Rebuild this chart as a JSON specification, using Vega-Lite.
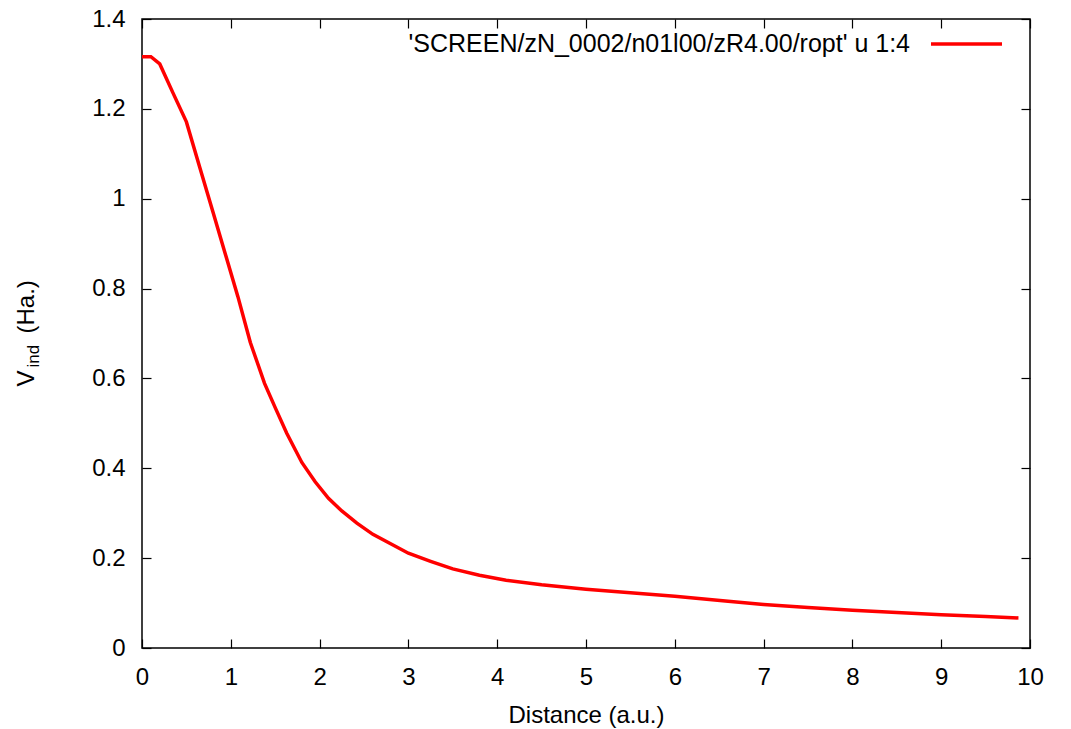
{
  "$schema": "https://vega.github.io/schema/vega-lite/v6.json",
  "width": 888,
  "height": 629,
  "autosize": "none",
  "padding": {"left": 142, "top": 19, "right": 41, "bottom": 81},
  "background": "white",
  "config": {
    "view": {"stroke": "black", "strokeWidth": 1.5},
    "font": "Liberation Sans",
    "axis": {"grid": false, "domain": false, "tickColor": "black", "tickWidth": 1.2, "labelColor": "black", "titleColor": "black", "labelFont": "Liberation Sans", "titleFont": "Liberation Sans", "titleFontWeight": "normal"}
  },
  "data": {
    "values": [
      {"d": 0.0, "v": 1.316},
      {"d": 0.1, "v": 1.316},
      {"d": 0.2, "v": 1.300},
      {"d": 0.35, "v": 1.235},
      {"d": 0.5, "v": 1.171},
      {"d": 0.65, "v": 1.070},
      {"d": 0.8, "v": 0.970},
      {"d": 0.95, "v": 0.869},
      {"d": 1.08, "v": 0.782},
      {"d": 1.22, "v": 0.680},
      {"d": 1.38, "v": 0.589},
      {"d": 1.5, "v": 0.535},
      {"d": 1.63, "v": 0.478},
      {"d": 1.8, "v": 0.413},
      {"d": 1.95, "v": 0.370},
      {"d": 2.1, "v": 0.333},
      {"d": 2.25, "v": 0.305},
      {"d": 2.42, "v": 0.278},
      {"d": 2.6, "v": 0.253},
      {"d": 2.8, "v": 0.232},
      {"d": 3.0, "v": 0.211},
      {"d": 3.25, "v": 0.193},
      {"d": 3.5, "v": 0.176},
      {"d": 3.8, "v": 0.162},
      {"d": 4.1, "v": 0.151},
      {"d": 4.5, "v": 0.141},
      {"d": 5.0, "v": 0.131},
      {"d": 5.5, "v": 0.123},
      {"d": 6.0, "v": 0.115},
      {"d": 6.6, "v": 0.104},
      {"d": 7.0, "v": 0.097},
      {"d": 7.5, "v": 0.090},
      {"d": 8.0, "v": 0.084},
      {"d": 8.5, "v": 0.079},
      {"d": 9.0, "v": 0.074},
      {"d": 9.5, "v": 0.070},
      {"d": 9.87, "v": 0.067}
    ]
  },
  "resolve": {"axis": {"x": "independent", "y": "independent"}},
  "layer": [
    {
      "mark": {"type": "line", "strokeWidth": 3.5, "clip": true},
      "encoding": {
        "x": {"field": "d", "type": "quantitative", "scale": {"domain": [0, 10], "nice": false, "zero": false},
          "axis": {"orient": "bottom", "values": [0,1,2,3,4,5,6,7,8,9,10], "tickSize": -9, "labelPadding": 45, "labelBaseline": "alphabetic", "labelFlush": false, "labelFontSize": 24, "title": "Distance (a.u.)", "titleFontSize": 24, "titleBaseline": "alphabetic", "titleY": 74}},
        "y": {"field": "v", "type": "quantitative", "scale": {"domain": [0, 1.4], "nice": false, "zero": false},
          "axis": {"orient": "left", "values": [0,0.2,0.4,0.6,0.8,1,1.2,1.4], "format": "~g", "tickSize": -9, "labelPadding": 26, "labelFlush": false, "labelFontSize": 24, "title": "V", "titleFontSize": 24, "titleAngle": -90, "titleAlign": "left", "titleBaseline": "alphabetic", "titleX": -108.5, "titleY": 367}},
        "color": {"datum": "'SCREEN/zN_0002/n01l00/zR4.00/ropt' u 1:4", "type": "nominal", "scale": {"range": ["#ff0000"]},
          "legend": {"title": null, "orient": "none", "legendX": 787, "legendY": -12.5, "padding": 0, "symbolType": "stroke", "symbolSize": 5041, "symbolStrokeWidth": 3.5, "labelAlign": "right", "labelOffset": -94, "labelLimit": 0, "labelFontSize": 25, "labelFont": "Liberation Sans", "labelColor": "black"}}
      }
    },
    {
      "mark": {"type": "line", "opacity": 0},
      "encoding": {
        "x": {"field": "d", "type": "quantitative", "scale": {"domain": [0, 10], "nice": false, "zero": false},
          "axis": {"orient": "top", "values": [0,1,2,3,4,5,6,7,8,9,10], "tickSize": -9, "labels": false, "title": null}},
        "y": {"field": "v", "type": "quantitative", "scale": {"domain": [0, 1.4], "nice": false, "zero": false},
          "axis": {"orient": "right", "values": [0,0.2,0.4,0.6,0.8,1,1.2,1.4], "tickSize": -9, "labels": false, "title": null}}
      }
    },
    {
      "mark": {"type": "line", "opacity": 0},
      "encoding": {
        "x": {"field": "d", "type": "quantitative", "scale": {"domain": [0, 10], "nice": false, "zero": false}, "axis": null},
        "y": {"field": "v", "type": "quantitative", "scale": {"domain": [0, 1.4], "nice": false, "zero": false},
          "axis": {"orient": "left", "ticks": false, "labels": false, "title": "ind", "titleFontSize": 17, "titleAngle": -90, "titleAlign": "left", "titleBaseline": "alphabetic", "titleX": -104, "titleY": 348}}
      }
    },
    {
      "mark": {"type": "line", "opacity": 0},
      "encoding": {
        "x": {"field": "d", "type": "quantitative", "scale": {"domain": [0, 10], "nice": false, "zero": false}, "axis": null},
        "y": {"field": "v", "type": "quantitative", "scale": {"domain": [0, 1.4], "nice": false, "zero": false},
          "axis": {"orient": "left", "ticks": false, "labels": false, "title": "(Ha.)", "titleFontSize": 24, "titleAngle": -90, "titleAlign": "left", "titleBaseline": "alphabetic", "titleX": -108.5, "titleY": 314}}
      }
    }
  ]
}
